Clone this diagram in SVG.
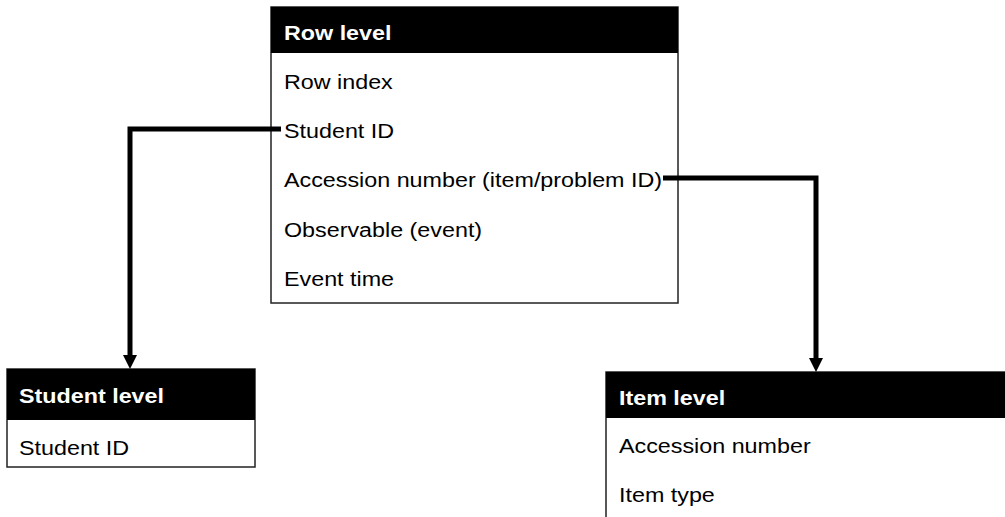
<svg xmlns="http://www.w3.org/2000/svg" width="1005" height="517" viewBox="0 0 1005 517">
<style>
.box{fill:#fff;stroke:#222;stroke-width:1.5}
.hdr{fill:#000}
.t{font-family:"Liberation Sans",Arial,sans-serif;font-size:21px;fill:#000}
.h{font-family:"Liberation Sans",Arial,sans-serif;font-size:21px;font-weight:bold;fill:#fff}
.c{fill:none;stroke:#000;stroke-width:5}
</style>
<rect width="1005" height="517" fill="#fff"/>
<g id="row-level">
<rect class="box" x="271" y="7" width="407" height="296"/>
<rect class="hdr" x="271" y="7" width="407" height="46"/>
<text class="h" transform="matrix(1.11 0 0 1 284 39.5)">Row level</text>
<text class="t" transform="matrix(1.11 0 0 1 284 89)">Row index</text>
<text class="t" transform="matrix(1.11 0 0 1 284 138)">Student ID</text>
<text class="t" transform="matrix(1.11 0 0 1 284 187)">Accession number (item/problem ID)</text>
<text class="t" transform="matrix(1.11 0 0 1 284 236.5)">Observable (event)</text>
<text class="t" transform="matrix(1.11 0 0 1 284 285.5)">Event time</text>
</g>
<g id="student-level">
<rect class="box" x="7" y="369" width="248" height="98"/>
<rect class="hdr" x="7" y="369" width="248" height="51"/>
<text class="h" transform="matrix(1.11 0 0 1 19 403)">Student level</text>
<text class="t" transform="matrix(1.11 0 0 1 19 455)">Student ID</text>
</g>
<g id="item-level">
<rect class="box" x="606" y="372" width="420" height="160"/>
<rect class="hdr" x="606" y="372" width="420" height="46"/>
<text class="h" transform="matrix(1.11 0 0 1 619 405)">Item level</text>
<text class="t" transform="matrix(1.11 0 0 1 619 453)">Accession number</text>
<text class="t" transform="matrix(1.11 0 0 1 619 502)">Item type</text>
</g>
<g id="connectors">
<path class="c" d="M281,129 H130 V356"/>
<polygon points="123,355 137,355 130,369" fill="#000"/>
<path class="c" d="M663,178 H816 V359"/>
<polygon points="809,358 823,358 816,372" fill="#000"/>
</g>
</svg>
